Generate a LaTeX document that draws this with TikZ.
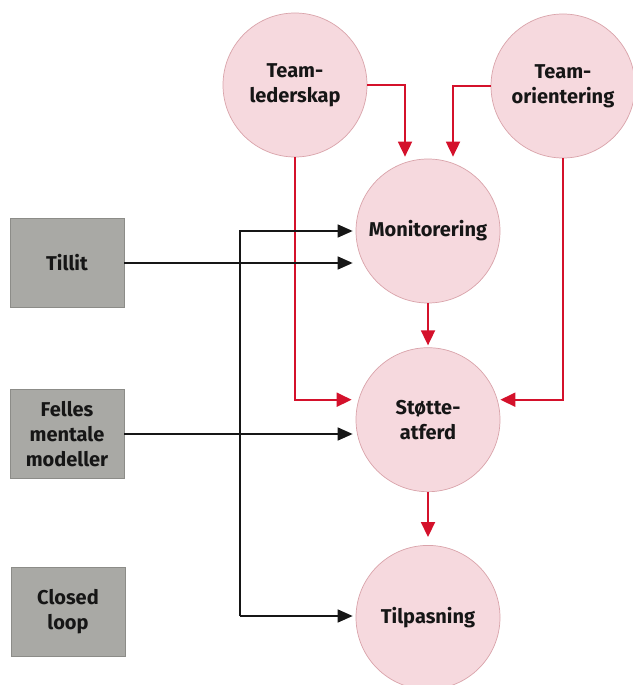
\documentclass[tikz,border=0pt]{standalone}
\usepackage{fontspec}
\setsansfont{Fira Sans}
\usepackage{xcolor}
\usetikzlibrary{arrows.meta,positioning}
\definecolor{teamred}{HTML}{D4112B}
\definecolor{teampink}{HTML}{F6D9DE}
\definecolor{teamrim}{HTML}{D9A3AA}
\definecolor{boxgray}{HTML}{A9A9A5}
\definecolor{boxrim}{HTML}{8C8C88}
\definecolor{inkdark}{HTML}{161616}

\begin{document}
\begin{tikzpicture}[x=1pt, y=-1pt,
  factor/.style={circle, draw=teamrim, line width=0.7pt, fill=teampink, minimum size=144pt, inner sep=0pt, align=center, text=inkdark, font=\sffamily\bfseries\fontsize{20}{25}\selectfont},
  input/.style={draw=boxrim, line width=0.7pt, fill=boxgray, minimum width=114pt, minimum height=89pt, inner sep=0pt, align=center, text=inkdark, font=\sffamily\bfseries\fontsize{20}{25}\selectfont},
  redarrow/.style={-{Triangle[length=15pt, width=14pt]}, line width=1.8pt, draw=teamred},
  blackarrow/.style={-{Triangle[length=15pt, width=13pt]}, line width=1.5pt, draw=inkdark}
]
\useasboundingbox (0,0) rectangle (632,685);

\node[factor] (lederskap) at (295,85) {Team-\\lederskap};
\node[factor] (orientering) at (563,86) {Team-\\orientering};
\node[factor] (monitor) at (428,231) {Monitorering};
\node[factor, below=44pt of monitor] (stotte) {Støtte-\\atferd};
\node[factor, below=53pt of stotte] (tilpasning) {Tilpasning};

\node[input] (tillit) at (67,263) {Tillit};
\node[input] (felles) at (67,434) {Felles\\mentale\\modeller};
\node[input] (closed) at (68,612) {Closed\\loop};

\coordinate (spinebot) at (240,616);

\draw[redarrow, shorten >=2pt] (lederskap.east) -| ([xshift=-23pt]monitor.north);
\draw[redarrow, shorten >=2pt] (orientering.west) -| ([xshift=25pt]monitor.north);
\draw[redarrow, shorten >=4pt] (lederskap.south) |- ([yshift=20pt]stotte.west);
\draw[redarrow] (orientering.south) |- ([yshift=20pt]stotte.east);
\draw[redarrow, shorten >=2pt] (monitor) -- (stotte);
\draw[redarrow, shorten >=8pt] (stotte) -- (tilpasning);

\draw[blackarrow, shorten >=3pt] (spinebot) |- (monitor.west);
\draw[blackarrow, shorten >=3pt] (spinebot) -- (spinebot -| tilpasning.west);
\draw[blackarrow, shorten >=3pt] (tillit.east) -- (tillit.east -| monitor.west);
\draw[blackarrow, shorten >=3pt] (felles.east) -- (felles.east -| stotte.west);
\end{tikzpicture}
\end{document}
